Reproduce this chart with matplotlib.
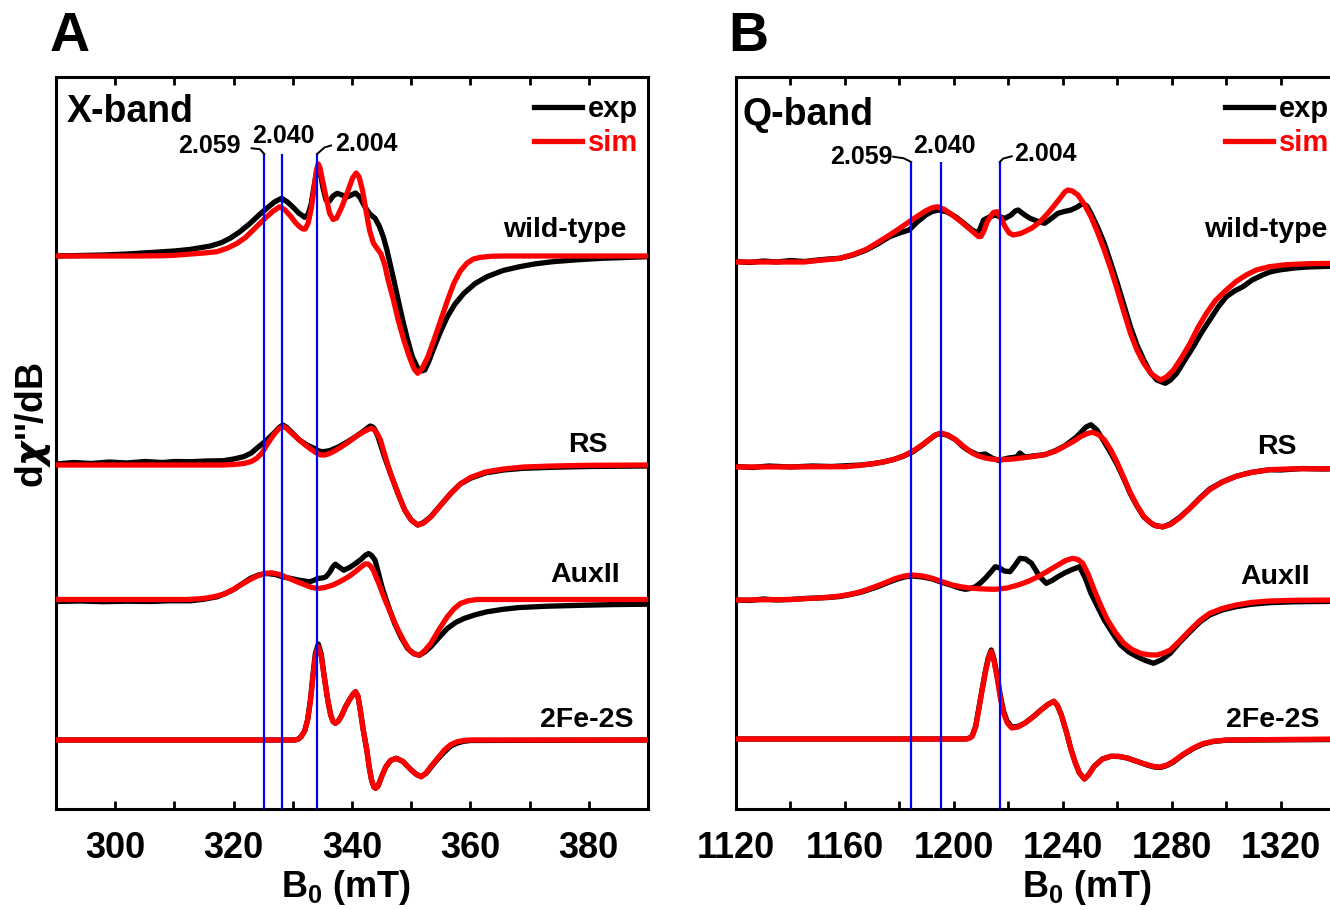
import matplotlib
matplotlib.use('Agg')
import matplotlib.pyplot as plt
from matplotlib.lines import Line2D
from matplotlib.ticker import MultipleLocator
import numpy as np

plt.rcParams.update({
    'font.family': ['Liberation Sans', 'DejaVu Sans'],
    'font.weight': 'bold',
    'axes.labelweight': 'bold',
    'axes.linewidth': 2.2,
})

SAMPLES = ["wild-type", "RS", "AuxII", "2Fe-2S"]
G_VALUES = [2.059, 2.040, 2.004]
FREQ_X = 9.371   # GHz
FREQ_Q = 34.13   # GHz

# (field mT, signal a.u.), baseline = 0
XB_WT_EXP = [(290, 0), (294, 0.5), (298, 1), (302, 2), (306, 3.5), (310, 5), (312.8, 6.7),
             (316.1, 10), (318, 13.5), (319.4, 17.7), (321, 24), (322.8, 32.7), (324.2, 40.5),
             (325.6, 47.7), (326.9, 54), (328.1, 57.7), (329.1, 54), (330, 49), (331, 43),
             (332, 38.7), (332.6, 42), (333.1, 52), (333.6, 70), (334.0, 84), (334.3, 88),
             (334.7, 82), (335.1, 68), (335.6, 56), (336.2, 55), (336.8, 60), (337.5, 62.7),
             (338.3, 61), (339.2, 59), (339.9, 61), (340.6, 63), (341.3, 59), (342.2, 49),
             (343.0, 42), (343.9, 37.7), (344.6, 30), (345.3, 19), (345.9, 6), (346.4, -7),
             (347.1, -25), (347.8, -44), (348.6, -65), (349.4, -84), (350.2, -101), (351.1, -112),
             (351.7, -115), (352.3, -114), (353.0, -105), (353.9, -91), (355, -75), (356.1, -60.7),
             (357.4, -48), (358.9, -37.3), (360.8, -27.5), (362.8, -20.7), (365.5, -14.5),
             (368.3, -10.7), (371, -7.8), (373.9, -5.7), (378, -3.8), (382.2, -2.3), (390, -0.7)]
XB_WT_SIM = [(290, 0), (304, 0), (308, 0.3), (310, 0.7), (312.8, 2), (315, 3), (317.2, 4.3),
             (319, 8), (320.6, 12.7), (322, 18.5), (323.3, 26), (324.5, 33), (325.6, 39.3),
             (326.7, 45), (327.8, 49.3), (328.7, 46), (329.7, 39.3), (330.5, 33), (331.2, 29),
             (331.7, 27), (332.1, 27), (332.6, 33), (333.1, 47), (333.6, 68), (334.0, 86),
             (334.3, 92), (334.6, 88), (335.0, 76), (335.6, 59.3), (336.2, 43), (336.8, 36.5),
             (337.4, 38), (338.3, 49.3), (339.3, 65), (340.1, 78), (340.7, 83), (341.2, 79),
             (341.8, 65), (342.4, 44), (343.0, 25), (343.6, 13), (344.3, 7), (344.9, 2),
             (345.5, -8), (346.1, -24), (347.0, -44), (347.8, -64), (348.8, -85), (349.7, -101),
             (350.5, -113), (351.1, -117.3), (351.8, -113), (352.8, -101), (353.9, -83),
             (355, -64), (356.1, -45), (357.2, -27.3), (358.3, -15), (359.4, -7.3), (360.5, -3),
             (361.7, -1.3), (363.5, -0.3), (365.6, 0), (390, 0)]
XB_RS_EXP = [(290, 1), (293, 2.5), (296, 1.5), (299, 3), (302, 2), (305, 3.5), (308, 2.5),
             (310, 3.5), (312.8, 3.3), (315.5, 4), (318.3, 4.3), (320, 6), (321.7, 8.3), (323, 12),
             (323.9, 16.7), (324.8, 21), (325.6, 25), (326.4, 29.5), (327, 33), (327.7, 37.5),
             (328.3, 40), (328.9, 38), (329.6, 34), (331.1, 25), (332.4, 20), (333.6, 16.7),
             (334.4, 14), (335, 13.3), (335.7, 13.8), (336.3, 14.5), (337.8, 18.3), (339.2, 23),
             (340.6, 28.3), (341.5, 32), (342.2, 35), (342.7, 37.5), (343.1, 39), (343.5, 38),
             (343.8, 36), (344.4, 28.3), (344.9, 19), (345.5, 8), (346.1, -2), (346.7, -11.7),
             (347.8, -29), (348.9, -45), (350, -55), (351.1, -60), (352.1, -57.5), (353.3, -51.7),
             (355, -40), (356.7, -28.3), (358.3, -19), (360, -13.3), (362.5, -8), (365.6, -5),
             (369, -3.3), (373.9, -2.3), (380, -1.5), (390, -1)]
XB_RS_SIM = [(290, 0), (318, 0), (320, 0.5), (321.7, 1.5), (323, 3.5), (323.9, 6.7), (324.8, 12),
             (325.6, 20), (326.4, 27), (327, 32), (327.7, 36.5), (328.3, 38.5), (328.9, 37),
             (329.6, 33), (331.1, 25), (332, 20.5), (333, 16), (334, 12), (334.7, 10), (335.4, 10),
             (336, 11), (337, 13.8), (337.8, 16.7), (339.2, 22), (340.6, 28.3), (342.2, 34),
             (342.9, 36), (343.3, 36.7), (343.8, 35), (344.3, 31), (344.8, 25), (345.4, 13),
             (346, 1), (346.7, -11.7), (347.8, -29), (348.9, -45), (350, -55), (351.1, -60),
             (352.1, -58), (353.3, -52), (355, -40), (356.7, -28.3), (358.3, -19), (360, -12.5),
             (362.5, -7), (365.6, -4), (369, -2), (373.9, -1), (380, -0.3), (390, 0)]
XB_AUX_EXP = [(290, -2), (294, -1.5), (298, -2.2), (302, -1.7), (306, -2), (309, -1.3),
              (312.8, -1.3), (315, 0.3), (317.2, 2.7), (318.6, 6), (320, 10), (321.4, 15.5),
              (322.8, 21), (324.2, 24.5), (325.6, 26), (327, 25), (328.3, 22.7), (329.7, 21),
              (331.1, 19.3), (332.8, 17.7), (333.5, 19), (334.2, 21), (335.0, 21.5), (335.6, 22.7),
              (336.2, 27), (336.8, 33), (337.2, 35.3), (337.7, 33), (338.6, 29.3), (339.6, 32),
              (340.6, 36), (341.5, 40), (342.2, 44), (342.8, 46), (343.3, 44), (343.9, 39.3),
              (344.4, 28), (345, 14), (345.6, 2.7), (346.4, -11), (347.2, -24), (348.3, -38),
              (349.4, -49), (350.4, -54), (351.4, -55.7), (352.3, -52.5), (353.3, -47.3),
              (354.7, -38), (356.1, -29), (357.5, -23), (358.9, -19), (360.8, -15.3), (362.8, -12.3),
              (365.5, -9.8), (368.3, -8), (373, -6.7), (379.4, -5.7), (384, -5.1), (390, -4.7)]
XB_AUX_SIM = [(290, 0), (312, 0), (314, 0.6), (315.5, 1.5), (317, 3.2), (318.3, 5.3), (319.8, 9.5),
              (321.1, 14.3), (322.5, 19), (323.9, 23.3), (325.2, 26), (326.4, 26.7), (327.8, 25),
              (329.4, 21), (330.8, 17.5), (332.2, 14.3), (333.2, 12), (334.2, 11), (335.4, 12),
              (336.7, 14.3), (338, 18), (339.4, 22.7), (340.5, 27.5), (341.4, 32), (342.2, 35.5),
              (342.7, 35.5), (343.2, 33), (343.6, 29.3), (344.1, 22), (344.6, 15), (345.1, 7),
              (345.6, -0.7), (346.7, -16), (347.8, -30.7), (348.8, -42), (349.7, -50.7),
              (350.5, -54.5), (351.4, -55.7), (352.3, -51), (353.3, -44), (354.7, -30),
              (356.1, -17.3), (357.2, -9.5), (358.3, -4), (359.6, -1.3), (361.1, 0), (390, 0)]
XB_FES_EXP = [(290, 0), (330.3, 0), (330.9, 0.8), (331.4, 3.3), (332, 9), (332.5, 20), (333.0, 41),
              (333.4, 65), (333.8, 86), (334.3, 96), (334.8, 86), (335.3, 64), (335.9, 40),
              (336.4, 25), (336.8, 18.5), (337.2, 16.7), (337.7, 19), (338.3, 25), (338.9, 33.3),
              (339.6, 40.5), (340.2, 46), (340.6, 48.3), (341.0, 44), (341.4, 30), (341.9, 10),
              (342.5, -10), (342.9, -27), (343.3, -40), (343.7, -47), (344, -48.3), (344.4, -46),
              (345, -36.7), (345.7, -27), (346.5, -20.5), (347.5, -18.3), (348.6, -21.5),
              (350, -30), (350.9, -34.5), (351.7, -36.7), (352.5, -33.5), (353.3, -27.5),
              (354.5, -19), (355.6, -12), (356.7, -6), (357.8, -3), (358.9, -1.3), (360, -0.5),
              (390, 0)]
XB_FES_SIM = [(290, 0), (330.3, 0), (330.9, 0.8), (331.4, 3.3), (332, 9), (332.5, 20), (333.0, 40),
              (333.4, 63.3), (333.8, 83), (334.3, 93.3), (334.8, 84), (335.3, 63.3), (335.9, 40),
              (336.4, 25), (336.8, 18.5), (337.2, 16.7), (337.7, 19), (338.3, 25), (338.9, 33.3),
              (339.6, 40.5), (340.2, 46), (340.6, 48.3), (341.0, 44), (341.4, 30), (341.9, 10),
              (342.5, -10), (342.9, -27), (343.3, -40), (343.7, -47), (344, -48.3), (344.4, -46),
              (345, -36.7), (345.7, -27), (346.5, -20.5), (347.5, -18.3), (348.6, -21.5),
              (350, -30), (350.9, -34.5), (351.7, -36.7), (352.5, -33), (353.3, -26.7),
              (354.5, -18), (355.6, -10), (356.7, -4.5), (357.8, -1.7), (358.9, -0.5), (360, 0),
              (390, 0)]

QB_WT_EXP = [(1120, 0.5), (1125, -0.5), (1130, 1), (1135, 0), (1140, 1.5), (1145, 0.5), (1150, 2),
             (1154, 3), (1158.2, 3.7), (1163, 7), (1167.9, 12), (1172, 18), (1176.4, 25.3),
             (1180, 29), (1183.6, 32), (1186.5, 40), (1189.7, 47), (1192, 50.5), (1194.5, 52),
             (1197.5, 50), (1200.6, 45.3), (1203.8, 38.5), (1206.7, 32), (1208, 30), (1209.1, 30),
             (1210, 36), (1210.9, 42), (1213, 45), (1215.2, 47), (1217, 45), (1218.8, 43.7),
             (1221, 47), (1222.5, 51), (1223.6, 52), (1225.5, 48), (1227.9, 43.7), (1230.5, 41),
             (1233.3, 38.7), (1236, 44), (1238.2, 48.7), (1240.5, 50.5), (1243, 52), (1245.3, 55),
             (1247.3, 58.7), (1248.8, 56), (1250.3, 48.7), (1252.7, 35), (1255.2, 18.7),
             (1257.6, -1), (1260, -21.3), (1262.4, -43), (1264.8, -64.7), (1267.2, -83),
             (1269.7, -98), (1272, -110), (1274.5, -118), (1277.6, -121.3), (1279.5, -118),
             (1281.8, -111.3), (1284.8, -98), (1287.9, -84.7), (1290.8, -71), (1293.9, -58),
             (1297, -45), (1300, -34.7), (1303, -29), (1306.1, -24.7), (1309.5, -18),
             (1313.3, -13), (1316, -10), (1319.4, -8), (1325, -6), (1330, -5), (1342, -4)]
QB_WT_SIM = [(1120, 0), (1145, 0), (1150, 1.5), (1154, 2.5), (1158.2, 3.7), (1163, 7.5),
             (1167.9, 12.7), (1172, 19.5), (1176.4, 27), (1180, 33.5), (1183.6, 40.3),
             (1186.7, 46), (1189.7, 51.3), (1191.8, 54), (1193.9, 55.3), (1196.5, 52.5),
             (1199.4, 47), (1202.5, 40.5), (1205.5, 33.7), (1207.7, 28.5), (1209.0, 25.5),
             (1209.9, 25.5), (1211, 31), (1212.2, 40), (1213.5, 46), (1214.5, 49.5), (1215.8, 50.3),
             (1217, 45), (1218.8, 35.3), (1220.3, 29), (1221.8, 27), (1224.5, 28.5), (1228.5, 33.7),
             (1231.5, 40), (1234.5, 48.7), (1237, 57), (1239.4, 65.3), (1240.7, 70), (1241.8, 72),
             (1243.5, 71), (1245.5, 67), (1247.8, 58), (1250.3, 45.3), (1252.7, 30), (1255.2, 12),
             (1257.6, -7), (1260, -28), (1262.4, -50), (1264.8, -71.3), (1267.2, -88),
             (1269.7, -101.3), (1272.5, -112), (1275.8, -118), (1278, -115), (1280.6, -108),
             (1283.5, -96), (1286.7, -81.3), (1289.5, -66), (1292.7, -51.3), (1296, -38.5),
             (1300, -28), (1303.6, -19.5), (1307.3, -13), (1311, -8), (1315.8, -4.7), (1322, -2.7),
             (1330, -1.7), (1342, -1.3)]
QB_RS_EXP = [(1120, 0.5), (1126, -0.5), (1132, 1), (1140, 0), (1148, 1), (1155, 0.5), (1162, 1.5),
             (1166, 2), (1170.3, 3.3), (1174, 5), (1177.6, 7.3), (1181.2, 10.5), (1184.8, 15),
             (1188, 21), (1190.9, 27.3), (1193.2, 32), (1195.2, 33.5), (1197.8, 31.5),
             (1200.6, 27.3), (1203, 21), (1205, 17), (1209, 12), (1211.5, 13), (1214, 9),
             (1216.4, 6.5), (1220, 9), (1223, 10), (1224.2, 14), (1226, 10), (1229, 11),
             (1233.3, 12.3), (1237, 16), (1240.6, 21), (1245, 30), (1248.5, 40), (1250.3, 42.3),
             (1252.5, 37), (1255.2, 25), (1257.6, 14), (1260, 2), (1262.4, -12), (1264.8, -27),
             (1267.2, -39), (1269.7, -50), (1273.3, -58), (1276.7, -60), (1279.4, -57),
             (1283, -50), (1286.7, -41), (1290.3, -31), (1293.9, -22), (1298.5, -15),
             (1303.6, -9.3), (1309, -5.5), (1315.8, -2.7), (1320, -3), (1328, -1.5), (1335, -2),
             (1342, -1.7)]
QB_RS_SIM = [(1120, 0), (1160, 0.3), (1165, 1.5), (1170.3, 3.3), (1174, 5), (1177.6, 7.3),
             (1181.2, 10.7), (1184.8, 15.7), (1188, 21.5), (1190.9, 27.3), (1193.2, 32),
             (1195.2, 34), (1197.8, 32), (1200.6, 27.3), (1203.6, 20.5), (1206.7, 14), (1209, 11),
             (1211.5, 9), (1214, 7.8), (1216.4, 7.3), (1220.5, 7.7), (1224.8, 9), (1229, 10.5),
             (1233.3, 12.3), (1237, 15.5), (1240.6, 20.7), (1243.8, 25.5), (1246.7, 30.7),
             (1249, 33.5), (1250.9, 34.7), (1253, 32.5), (1255.2, 27.3), (1257.6, 17), (1260, 4),
             (1262.4, -11), (1264.8, -26), (1267.2, -38.5), (1269.7, -49.3), (1272, -55.5),
             (1274.5, -59.3), (1277, -59.5), (1279.4, -57.7), (1283, -50.5), (1286.7, -41),
             (1290.3, -31.5), (1293.9, -22.7), (1298.5, -15), (1303.6, -9.3), (1309, -5.5),
             (1315.8, -2.7), (1325, -1.8), (1342, -1.7)]
QB_AUX_EXP = [(1120, 0), (1125, -0.5), (1130, 1), (1135, 0), (1140, 0.5), (1145, 1.5), (1150, 2),
              (1154, 2.5), (1158.2, 3.5), (1162, 5.5), (1165.5, 7.5), (1169, 10.5), (1172.7, 14),
              (1175.8, 17.5), (1178.8, 20.5), (1181.8, 23), (1184.8, 24), (1188.5, 23),
              (1192.1, 21), (1195.7, 17.5), (1199.4, 14.5), (1202, 12), (1204.2, 10.7), (1206, 11.5),
              (1207.9, 13.3), (1209.7, 17), (1211.5, 21.7), (1213.4, 27.5), (1215.2, 33.3),
              (1216.8, 32), (1218.5, 29), (1220.6, 28.3), (1222.5, 35), (1224.2, 41.7),
              (1226.3, 41), (1228.5, 36.7), (1230, 30), (1231.5, 23.3), (1233.9, 16.7), (1236, 19.5),
              (1238.2, 23.3), (1240.6, 27), (1243, 30), (1246.1, 33.3), (1248.2, 22), (1250.3, 6.7),
              (1252.8, -7), (1255.2, -20), (1258.2, -33), (1261.2, -45), (1264.2, -52),
              (1267.3, -56.7), (1270.3, -60.5), (1273.3, -63.3), (1276.4, -59.5), (1279.4, -53.3),
              (1283, -42), (1286.7, -31.7), (1290.3, -22), (1293.9, -15), (1298.5, -10),
              (1303.6, -6.7), (1309, -4.3), (1315.8, -2.7), (1325, -1.8), (1342, -1.3)]
QB_AUX_SIM = [(1120, 0), (1140, 0.5), (1150, 2), (1154, 2.8), (1158.2, 4), (1162, 5.8),
              (1165.5, 8), (1169, 11.3), (1172.7, 15), (1175.8, 18.5), (1178.8, 21.7), (1181.8, 24),
              (1184.8, 25), (1188.5, 24), (1192.1, 21.7), (1195.7, 18.3), (1199.4, 15), (1203, 13),
              (1206.7, 11.7), (1211, 11), (1215.2, 10.7), (1219.5, 12), (1223.6, 15),
              (1227.3, 18.7), (1230.9, 23.3), (1234.5, 29), (1238.2, 35), (1241, 39.5),
              (1243.6, 41.7), (1245.5, 40.5), (1247.3, 36.7), (1249.4, 25), (1251.5, 10),
              (1254, -6), (1256.4, -20), (1259.4, -33), (1262.4, -43.3), (1265.4, -49.5),
              (1268.5, -53.3), (1271.5, -54.8), (1274.5, -55), (1277, -53), (1279.4, -50),
              (1283, -40.5), (1286.7, -30), (1290.3, -20.5), (1293.9, -13.3), (1298.5, -8.5),
              (1303.6, -5), (1309, -2.5), (1315.8, -1), (1325, -0.3), (1342, 0)]
QB_FES_EXP = [(1120, 0), (1204.5, 0), (1205.7, 1), (1206.7, 3), (1208, 13), (1209.1, 30),
              (1210.3, 49), (1211.5, 67), (1212.6, 81), (1213.7, 89), (1214.7, 80), (1215.8, 64),
              (1217, 44), (1218.2, 28), (1219.5, 18), (1221.2, 12), (1223.5, 12.5), (1226.1, 16),
              (1229, 22), (1232.1, 29.3), (1234.5, 34.5), (1236.7, 37.7), (1238, 33.5),
              (1239.4, 24.3), (1241.2, 8), (1243, -10.7), (1244.6, -24), (1246.1, -34),
              (1247.9, -40), (1249.5, -35.5), (1251.5, -27.3), (1254.5, -20), (1257.6, -17.3),
              (1260.5, -17.5), (1263.6, -19), (1267.3, -22.5), (1270.9, -26), (1273.5, -28),
              (1275.8, -28.5), (1278.2, -26.5), (1280.6, -23), (1284, -16), (1287.9, -9.5),
              (1291.5, -5), (1295.2, -2.5), (1300, -1.2), (1342, -0.5)]
QB_FES_SIM = [(1120, 0), (1204.5, 0), (1205.7, 0.8), (1206.7, 2.7), (1208, 12), (1209.1, 29.3),
              (1210.3, 48), (1211.5, 66), (1212.6, 80), (1213.7, 87.7), (1214.7, 78),
              (1215.8, 62.7), (1217, 42), (1218.2, 26), (1219.6, 16), (1221.2, 11), (1223.5, 12),
              (1226.1, 16), (1229, 22), (1232.1, 29.3), (1234.5, 34.5), (1236.7, 37.7), (1238, 33.5),
              (1239.4, 24.3), (1241.2, 8), (1243, -10.7), (1244.6, -24), (1246.1, -34),
              (1247.9, -40), (1249.5, -35.5), (1251.5, -27.3), (1254.5, -20), (1257.6, -17.3),
              (1260.5, -17.3), (1263.6, -19), (1267.3, -22.5), (1270.9, -25.7), (1273.5, -27.5),
              (1275.8, -28), (1278.2, -26), (1280.6, -22.3), (1284, -15.5), (1287.9, -9),
              (1291.5, -4.5), (1295.2, -2.3), (1300, -1), (1342, 0)]


def field_for_g(g, freq_ghz):
    # resonance field in mT: B = h*nu / (g * muB), h/muB = 71.4477 mT/GHz
    return 71.4477 * freq_ghz / g


def draw_traces(ax, pairs, offsets):
    for (exp, sim), off in zip(pairs, offsets):
        f, v = np.array(exp).T
        ax.plot(f, v + off, color='black', lw=3.8, solid_joinstyle='round',
                solid_capstyle='round', zorder=2)
        f, v = np.array(sim).T
        ax.plot(f, v + off, color='red', lw=3.8, solid_joinstyle='round',
                solid_capstyle='round', zorder=3)


def draw_g_markers(ax, freq, top, px_per_mT, layout):
    fields = [field_for_g(g, freq) for g in G_VALUES]
    ax.vlines(fields, 0, top, colors='#0000FF', lw=1.6, zorder=5)
    s = 1.0 / px_per_mT
    # 2.059: label left of the line, hooked leader
    b = fields[0]
    hx, hy, tx, ty = layout[0]
    ax.plot([b + hx[0] * s, b + hx[1] * s, b], [top + hy[0], top + hy[1], top],
            color='black', lw=1.4, zorder=5)
    ax.text(b + tx * s, top + ty, f"{G_VALUES[0]:.3f}", ha='right', va='center', fontsize=18)
    # 2.040: label straight above
    b = fields[1]
    tx, ty = layout[1]
    ax.text(b + tx * s, top + ty, f"{G_VALUES[1]:.3f}", ha='center', va='center', fontsize=18)
    # 2.004: label right of the line
    b = fields[2]
    hx, hy, tx, ty = layout[2]
    ax.plot([b, b + hx[0] * s, b + hx[1] * s], [top, top + hy[0], top + hy[1]],
            color='black', lw=1.4, zorder=5)
    ax.text(b + tx * s, top + ty, f"{G_VALUES[2]:.3f}", ha='left', va='center', fontsize=18)


def style_axes(ax, major, minor):
    ax.xaxis.set_major_locator(MultipleLocator(major))
    ax.xaxis.set_minor_locator(MultipleLocator(minor))
    ax.tick_params(axis='x', which='both', direction='in', top=True, bottom=True,
                   length=6, width=2, labelsize=26, pad=16)
    ax.tick_params(axis='y', left=False, labelleft=False)
    ax.set_ylim(0, 732)


fig = plt.figure(figsize=(13.3, 9.1), dpi=100)

# X-band panel
axA = fig.add_axes([56 / 1330, 101 / 910, 592 / 1330, 732 / 910])
draw_traces(axA, [(XB_WT_EXP, XB_WT_SIM), (XB_RS_EXP, XB_RS_SIM),
                  (XB_AUX_EXP, XB_AUX_SIM), (XB_FES_EXP, XB_FES_SIM)],
            [553, 344, 209.5, 69])
axA.set_xlim(290, 390)
style_axes(axA, 20, 10)
draw_g_markers(axA, FREQ_X, 655, 5.92,
               [((-12.6, -4.3), (5.7, 4.8), -24, 8), (1.5, 18),
                ((7.4, 14), (6.5, 8.5), 18.4, 10)])
axA.text(0.018, 0.952, "X-band", transform=axA.transAxes, fontsize=27, va='center', ha='left')
for name, x, y in zip(SAMPLES, [386.3, 383.1, 385.3, 387.5], [579, 364, 234, 89]):
    axA.text(x, y, name, ha='right', va='center', fontsize=20.5)
axA.set_xlabel(r"B$_\mathregular{0}$ (mT)", fontsize=26)
axA.xaxis.set_label_coords(0.49, -0.107)
axA.xaxis.label.set_va('center')

# Q-band panel, right edge runs past the figure border
axB = fig.add_axes([736 / 1330, 101 / 910, 602 / 1330, 732 / 910])
draw_traces(axB, [(QB_WT_EXP, QB_WT_SIM), (QB_RS_EXP, QB_RS_SIM),
                  (QB_AUX_EXP, QB_AUX_SIM), (QB_FES_EXP, QB_FES_SIM)],
            [547, 342, 209, 70])
axB.set_xlim(1120, 1341)
style_axes(axB, 40, 20)
draw_g_markers(axB, FREQ_Q, 647, 2.72,
               [((-18, -7.3), (5.3, 3.7), -19, 5), (3, 16),
                ((3.4, 12), (3.4, 5.7), 14, 8)])
axB.text(0.011, 0.948, "Q-band", transform=axB.transAxes, fontsize=27, va='center', ha='left')
axB.text(1292, 579, SAMPLES[0], ha='left', va='center', fontsize=20.5)
for name, x, y in zip(SAMPLES[1:], [1325.9, 1330.6, 1334.2], [362, 232, 89]):
    axB.text(x, y, name, ha='right', va='center', fontsize=20.5)
axB.set_xlabel(r"B$_\mathregular{0}$ (mT)", fontsize=26)
axB.xaxis.set_label_coords(0.583, -0.107)
axB.xaxis.label.set_va('center')

# exp / sim key in both panels
handles = [Line2D([], [], color='black', lw=3.8), Line2D([], [], color='red', lw=3.8)]
for ax, xa in [(axA, 0.807), (axB, 0.812)]:
    ax.legend(handles, ['exp', 'sim'], loc='upper left', bbox_to_anchor=(xa, 0.975),
              frameon=False, prop={'weight': 'bold', 'size': 21}, labelcolor='linecolor',
              handlelength=1.65, handletextpad=0.2, labelspacing=0.19,
              borderpad=0, borderaxespad=0)

fig.text(33 / 1330, 1 - 425 / 910, r"d$\chi$''/dB", rotation=90, ha='center', va='center',
         fontsize=27)
fig.text(50 / 1330, 1 - 37 / 910, "A", fontsize=40, ha='left', va='center')
fig.text(728 / 1330, 1 - 37 / 910, "B", fontsize=40, ha='left', va='center')

fig.savefig('out.png', dpi=100)
